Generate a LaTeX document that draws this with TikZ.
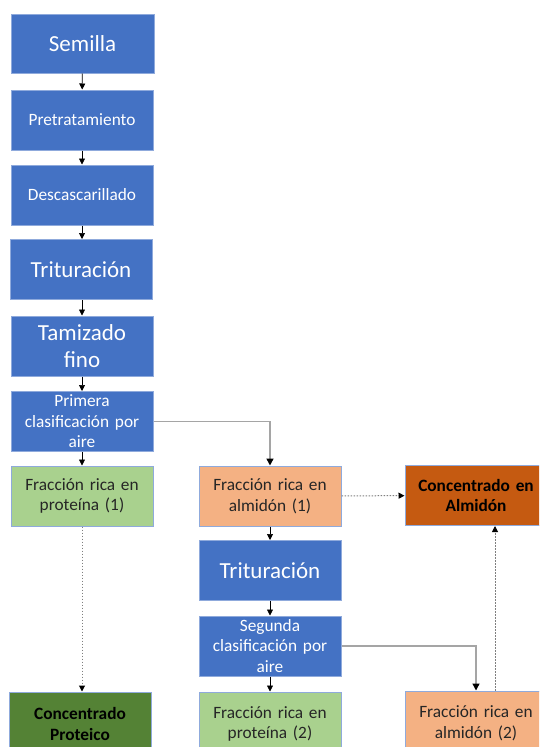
\documentclass[tikz,border=0pt]{standalone}
\usepackage{fontspec}
\setmainfont{Carlito}
\usetikzlibrary{arrows.meta,positioning}
\definecolor{mblue}{HTML}{4472C4}
\definecolor{mborder}{HTML}{8FAADC}
\definecolor{lgreen}{HTML}{A9D18E}
\definecolor{dgreen}{HTML}{548235}
\definecolor{lorange}{HTML}{F4B183}
\definecolor{dorange}{HTML}{C55A11}
\definecolor{mgray}{HTML}{A5A5A5}
\definecolor{dotgray}{HTML}{7F7F7F}
\definecolor{mtext}{HTML}{262626}

\tikzset{
  proc/.style={draw=mborder, line width=1pt, minimum width=142pt, minimum height=60pt, inner sep=2pt, align=center, text width=138pt},
  bluebox/.style={proc, fill=mblue, text=white},
  bigtext/.style={font=\fontsize{23}{27}\selectfont},
  smalltext/.style={font=\fontsize{17.3}{20.5}\selectfont},
  protbox/.style={proc, fill=lgreen, text=mtext, smalltext},
  almbox/.style={proc, fill=lorange, text=mtext, smalltext},
  prodbox/.style={proc, text=black, font=\fontsize{17.3}{20.5}\selectfont\bfseries},
  arr/.style={black, line width=.7pt, -{Triangle[length=6pt,width=6pt]}},
  elbow/.style={mgray, line width=1.4pt, -{Triangle[length=7pt,width=7pt,color=black]}},
  dotarr/.style={dotgray, line width=1pt, dash pattern=on 1.5pt off 1.5pt, -{Triangle[length=6pt,width=6pt,color=black]}}
}

\begin{document}
\begin{tikzpicture}[x=1pt,y=-1pt]
\fill[white] (0,0) rectangle (539,747);
\clip (0,0) rectangle (539,747);

% Main line
\node[bluebox, bigtext, minimum width=143pt, minimum height=59pt] (semilla) at (82.5,43.5) {Semilla};
\node[bluebox, smalltext] (pretrat) at (82,120) {Pretratamiento};
\node[bluebox, smalltext] (descas) at (82,195) {Descascarillado};
\node[bluebox, bigtext] (trit1) at (81,269.5) {Trituración};
\node[bluebox, bigtext] (tamiz) at (82,346) {Tamizado\\fino};
\node[bluebox, smalltext] (primera) at (82,421.5) {Primera\\clasificación por\\aire};

% Fractions, first pass
\node[protbox] (prot1) at (82,496) {Fracción rica en\\proteína (1)};
\node[almbox] (alm1) at (270,496) {Fracción rica en\\almidón (1)};
\node[prodbox, fill=dorange] (concalm) at (476,495.5) {Concentrado en\\Almidón};

% Second pass
\node[bluebox, bigtext] (trit2) at (270,570.5) {Trituración};
\node[bluebox, smalltext] (segunda) at (270,646) {Segunda\\clasificación por\\aire};

% Bottom row
\node[prodbox, fill=dgreen, minimum height=64pt] (concprot) at (80,724) {Concentrado\\Proteico};
\node[protbox, minimum height=64pt] (prot2) at (270,724) {Fracción rica en\\proteína (2)};
\node[almbox, minimum height=64pt] (alm2) at (476,723) {Fracción rica en\\almidón (2)};

% Arrows
\draw[arr] (semilla) -- (pretrat);
\draw[arr] (pretrat) -- (descas);
\draw[arr] (descas) -- (descas |- trit1.north);
\draw[arr] (descas |- trit1.south) -- (tamiz);
\draw[arr] (tamiz) -- (primera);
\draw[arr] (primera) -- (prot1);
\draw[elbow] (primera.east) -| (alm1.north);
\draw[dotarr] (prot1.south) -- (prot1.south |- concprot.north);
\draw[dotarr] (alm1) -- (concalm);
\draw[arr] (alm1) -- (trit2);
\draw[arr] (trit2) -- (segunda);
\draw[arr] (segunda) -- (prot2);
\draw[elbow] (segunda.east) -| (alm2.north);
\draw[dotarr] ([xshift=19pt]alm2.north) -- ([xshift=19pt]concalm.south);

\end{tikzpicture}
\end{document}
